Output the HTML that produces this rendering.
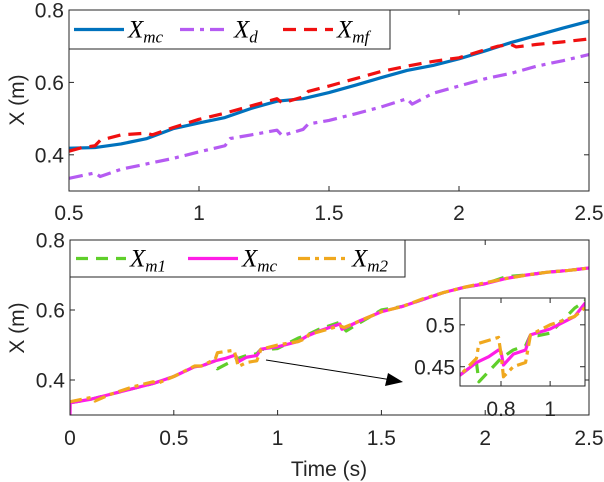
<!DOCTYPE html>
<html><head><meta charset="utf-8"><style>
body{margin:0;background:#fff;}
svg{display:block;font-family:"Liberation Sans",sans-serif;}
</style></head><body>
<svg id="c" width="604" height="482" xmlns="http://www.w3.org/2000/svg"></svg>
<script>
const topT_mc=[0.5,0.6,0.7,0.8,0.9,1.0,1.1,1.2,1.3,1.4,1.5,1.6,1.7,1.8,1.9,2.0,2.1,2.2,2.3,2.4,2.5];
const topV_mc=[0.418,0.42,0.43,0.445,0.472,0.488,0.503,0.528,0.548,0.555,0.572,0.592,0.613,0.633,0.647,0.665,0.687,0.71,0.73,0.75,0.769];
const topT_d=[0.5,0.6,0.62,0.7,0.8,0.9,1.0,1.1,1.12,1.2,1.3,1.32,1.4,1.42,1.5,1.6,1.7,1.8,1.82,1.9,2.0,2.1,2.2,2.3,2.4,2.5];
const topV_d=[0.335,0.35,0.34,0.36,0.375,0.39,0.408,0.425,0.445,0.455,0.468,0.453,0.47,0.485,0.495,0.513,0.532,0.555,0.54,0.57,0.59,0.61,0.625,0.645,0.66,0.677];
const topT_mf=[0.5,0.55,0.6,0.62,0.7,0.8,0.82,0.9,1.0,1.1,1.2,1.3,1.32,1.4,1.42,1.5,1.6,1.7,1.8,1.9,2.0,2.1,2.15,2.2,2.22,2.3,2.4,2.5];
const topV_mf=[0.41,0.42,0.425,0.44,0.455,0.46,0.455,0.475,0.498,0.515,0.535,0.555,0.543,0.56,0.575,0.59,0.61,0.63,0.645,0.658,0.668,0.69,0.7,0.705,0.698,0.705,0.712,0.72];
const botT_mc=[0,0.001,0.1,0.2,0.3,0.4,0.5,0.6,0.633,0.7,0.75,0.79,0.8,0.81,0.85,0.9,0.92,1.0,1.1,1.14,1.2,1.3,1.31,1.4,1.5,1.6,1.7,1.8,1.9,2.0,2.1,2.2,2.3,2.4,2.5];
const botV_mc=[0.3,0.335,0.345,0.36,0.375,0.39,0.41,0.438,0.44,0.455,0.462,0.47,0.468,0.452,0.465,0.47,0.488,0.495,0.51,0.525,0.54,0.56,0.545,0.57,0.595,0.61,0.63,0.65,0.665,0.675,0.69,0.7,0.708,0.713,0.72];
const botT_m1=[0,0.1,0.2,0.3,0.4,0.5,0.6,0.633,0.7,0.71,0.8,0.85,0.9,0.92,0.95,1.0,1.1,1.14,1.2,1.3,1.33,1.4,1.5,1.6,1.7,1.8,1.9,2.0,2.1,2.2,2.3,2.4,2.5];
const botV_m1=[0.335,0.345,0.36,0.375,0.39,0.41,0.438,0.44,0.455,0.432,0.46,0.47,0.475,0.488,0.487,0.49,0.52,0.528,0.545,0.565,0.54,0.565,0.6,0.61,0.63,0.65,0.665,0.675,0.695,0.7,0.708,0.713,0.72];
const botT_m2=[0,0.1,0.12,0.2,0.3,0.4,0.42,0.5,0.6,0.633,0.7,0.71,0.79,0.8,0.81,0.85,0.9,0.92,1.0,1.1,1.14,1.15,1.2,1.3,1.32,1.4,1.5,1.6,1.7,1.8,1.9,2.0,2.1,2.2,2.3,2.4,2.5];
const botV_m2=[0.338,0.35,0.34,0.36,0.38,0.395,0.39,0.41,0.44,0.44,0.46,0.478,0.485,0.465,0.438,0.45,0.455,0.488,0.5,0.51,0.52,0.53,0.538,0.555,0.55,0.57,0.595,0.61,0.632,0.65,0.665,0.678,0.69,0.7,0.708,0.713,0.72];
const topXTicks=[0.5,1,1.5,2,2.5], topXLabels=["0.5","1","1.5","2","2.5"];
const botXTicks=[0,0.5,1,1.5,2,2.5], botXLabels=["0","0.5","1","1.5","2","2.5"];
const yTicks=[0.4,0.6,0.8], yLabels=["0.4","0.6","0.8"];
const insetXTicks=[0.8,1], insetXLabels=["0.8","1"];
const insetYTicks=[0.45,0.5], insetYLabels=["0.45","0.5"];

const svg=document.getElementById('c');const NS='http://www.w3.org/2000/svg';
function mk(tag,attrs,parent){const e=document.createElementNS(NS,tag);for(const k in attrs)e.setAttribute(k,attrs[k]);(parent||svg).appendChild(e);return e;}
function scale(d0,d1,p0,p1){return v=>p0+(v-d0)/(d1-d0)*(p1-p0);}

function axes(name,x0,x1,y0,y1,xd,yd,xt,xl,yt,yl,fs,xlabY){
  const sx=scale(xd[0],xd[1],x0,x1), sy=scale(yd[0],yd[1],y1,y0);
  const g=mk('g',{});
  
  
  mk('rect',{x:x0,y:y0,width:x1-x0,height:y1-y0,fill:'#fff'},g);
  xt.forEach((v,i)=>{const x=sx(v);
    mk('line',{x1:x,x2:x,y1:y1,y2:y1-5,stroke:'#262626','stroke-width':1},g);
    mk('line',{x1:x,x2:x,y1:y0,y2:y0+5,stroke:'#262626','stroke-width':1},g);
    const t=mk('text',{x:x,y:xlabY,'text-anchor':'middle','font-size':fs,fill:'#262626'},g);t.textContent=xl[i];
    
    });
  yt.forEach((v,i)=>{const y=sy(v);
    mk('line',{x1:x0,x2:x0+5,y1:y,y2:y,stroke:'#262626','stroke-width':1},g);
    mk('line',{x1:x1,x2:x1-5,y1:y,y2:y,stroke:'#262626','stroke-width':1},g);
    const t=mk('text',{x:x0-5,y:y+fs*0.36,'text-anchor':'end','font-size':fs,fill:'#262626'},g);t.textContent=yl[i];
    
    });
  return {sx,sy,g};
}
function series(ax,T,V,color,dash,w,name,clip){
  const d=T.map((t,i)=>(i?'L':'M')+ax.sx(t).toFixed(2)+','+ax.sy(V[i]).toFixed(2)).join('');
  const p=mk('path',{d:d,fill:'none',stroke:color,'stroke-width':w,'stroke-dasharray':dash,'stroke-linejoin':'round'},ax.g);
  if(clip)p.setAttribute('clip-path','url(#'+clip+')');
  
  
}
function box(ax,x0,x1,y0,y1){mk('rect',{x:x0,y:y0,width:x1-x0,height:y1-y0,fill:'none',stroke:'#262626','stroke-width':1},ax.g);}
function legend(name,x,y,w,h,items){
  const g=mk('g',{});
  
  
  mk('rect',{x:x,y:y,width:w,height:h,fill:'#fff',stroke:'#262626','stroke-width':1},g);
  items.forEach(it=>{
    mk('line',{x1:it.lx,x2:it.lx+50,y1:y+h/2,y2:y+h/2,stroke:it.c,'stroke-width':3.2,'stroke-dasharray':it.d},g);
    const t=mk('text',{x:it.lx+54,y:y+h/2+8,'font-family':'"Liberation Serif",serif','font-style':'italic','font-size':25,fill:'#000'},g);
    
    
    t.textContent='X';
    const s=mk('tspan',{'font-size':17,dy:5},t);s.textContent=it.sub;
  });
}
const defs=mk('defs',{});
const cp=mk('clipPath',{id:'clipTop'},defs);mk('rect',{x:69,y:10,width:520,height:181},cp);
const cp2=mk('clipPath',{id:'clipBot'},defs);mk('rect',{x:70,y:240,width:519,height:175},cp2);
const cp3=mk('clipPath',{id:'clipIn'},defs);mk('rect',{x:460,y:298,width:125,height:88},cp3);

const FS=21;
// Top panel
const A=axes('top-axes',69,589,10,191,[0.5,2.5],[0.3,0.8],topXTicks,topXLabels,yTicks,yLabels,FS,220);
series(A,topT_mc,topV_mc,'#0072BD','',3.2,'series-xmc','clipTop');
series(A,topT_d,topV_d,'#B55BF2','14 6 4 6',3.2,'series-xd','clipTop');
series(A,topT_mf,topV_mf,'#F01010','13 8',3.2,'series-xmf','clipTop');
box(A,69,589,10,191);
legend('top-legend',69,10,321,39,[{lx:74,c:'#0072BD',d:'',sub:'mc'},{lx:180,c:'#B55BF2',d:'14 6 4 6',sub:'d'},{lx:283,c:'#F01010',d:'13 8',sub:'mf'}]);
const yl1=mk('text',{x:0,y:0,transform:'translate(24,100) rotate(-90)','text-anchor':'middle','font-size':FS,fill:'#262626'});yl1.textContent='X (m)';



// Bottom panel
const B=axes('bottom-axes',70,589,240,415,[0,2.5],[0.3,0.8],botXTicks,botXLabels,yTicks,yLabels,FS,445);
series(B,botT_m1,botV_m1,'#5FCF2A','12 8',3.2,'series-xm1','clipBot');
series(B,botT_mc,botV_mc,'#FF1EE6','',3.2,'series-xmc-bottom','clipBot');
series(B,botT_m2,botV_m2,'#F0A81E','12 5 4 5',3.2,'series-xm2','clipBot');
box(B,70,589,240,415);
legend('bottom-legend',70,240,335,37,[{lx:76,c:'#5FCF2A',d:'12 8',sub:'m1'},{lx:188,c:'#FF1EE6',d:'',sub:'mc'},{lx:298,c:'#F0A81E',d:'12 5 4 5',sub:'m2'}]);
const yl2=mk('text',{x:0,y:0,transform:'translate(24,328) rotate(-90)','text-anchor':'middle','font-size':FS,fill:'#262626'});yl2.textContent='X (m)';


const xt=mk('text',{x:329,y:476,'text-anchor':'middle','font-size':FS,fill:'#262626'});xt.textContent='Time (s)';



// arrow
const ar=mk('g',{});


mk('line',{x1:266,y1:360,x2:392,y2:380,stroke:'#000','stroke-width':1},ar);
mk('polygon',{points:'403,382 388,373 385,386',fill:'#000'},ar);

// Inset
const C=axes('inset-axes',460,585,298,386,[0.633,1.142],[0.427,0.532],insetXTicks,insetXLabels,insetYTicks,insetYLabels,FS,416);
series(C,botT_m1,botV_m1,'#5FCF2A','12 8',3.2,'inset-xm1','clipIn');
series(C,botT_mc,botV_mc,'#FF1EE6','',3.2,'inset-xmc','clipIn');
series(C,botT_m2,botV_m2,'#F0A81E','12 5 4 5',3.2,'inset-xm2','clipIn');
box(C,460,585,298,386);
</script>
</body></html>
